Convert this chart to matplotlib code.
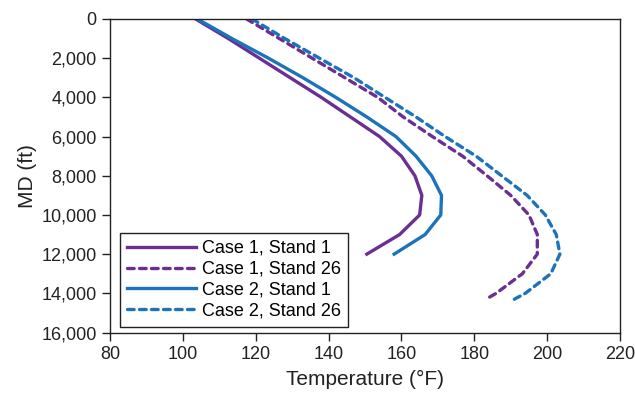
import numpy as np
import matplotlib
matplotlib.use("Agg")
import matplotlib.pyplot as plt
from matplotlib.ticker import FuncFormatter

plt.rcParams["font.family"] = ["Liberation Sans", "DejaVu Sans"]

md_short = [0, 1000, 2000, 3000, 4000, 5000, 6000, 7000, 8000, 9000, 10000, 11000, 12000]
t_case1_s1 = [103.5, 112.5, 121.0, 129.5, 138.0, 146.0, 154.0, 160.0, 163.7, 165.6, 165.0, 159.5, 150.5]
t_case2_s1 = [104.0, 113.5, 123.5, 133.0, 142.0, 150.5, 158.5, 164.0, 168.3, 171.0, 170.8, 166.5, 158.0]

md_long = [0, 1000, 2000, 3000, 4000, 5000, 6000, 7000, 8000, 9000, 10000,
           11000, 12000, 13000, 14000, 14300]
t_case1_s26 = [117.5, 126.5, 135.5, 144.5, 153.5, 160.5, 168.5, 176.8, 183.5, 190.0, 195.0,
               197.3, 197.3, 193.2, 186.0, 183.2]
t_case2_s26 = [119.0, 128.0, 137.5, 147.0, 155.5, 164.0, 172.0, 180.5, 187.5, 194.5, 199.5,
               202.5, 203.5, 201.0, 194.0, 191.0]

purple = "#6b2f94"
blue = "#1b74bb"
ink = "#222222"

fig = plt.figure(figsize=(6.35, 3.95), dpi=100)
ax = fig.add_axes([0.1732, 0.1582, 0.8032, 0.7937])

lw = 2.4
dash = (0, (2.0, 1.6))
ax.plot(t_case1_s1, md_short, color=purple, lw=lw, label="Case 1, Stand 1")
ax.plot(t_case1_s26, md_long, color=purple, lw=lw, ls=dash,
        dash_capstyle="round", label="Case 1, Stand 26")
ax.plot(t_case2_s1, md_short, color=blue, lw=lw, label="Case 2, Stand 1")
ax.plot(t_case2_s26, md_long, color=blue, lw=lw, ls=dash,
        dash_capstyle="round", label="Case 2, Stand 26")

ax.set_xlim(80, 220)
ax.set_ylim(16000, 0)
ax.set_xticks(np.arange(80, 221, 20))
ax.set_yticks(np.arange(0, 16001, 2000))
ax.yaxis.set_major_formatter(FuncFormatter(lambda v, p: f"{int(v):,}"))
ax.tick_params(direction="out", length=5.5, width=1, labelsize=13, colors=ink, pad=4)
for s in ax.spines.values():
    s.set_linewidth(1.0)
    s.set_color(ink)

ax.set_xlabel("Temperature (°F)", fontsize=15, color=ink, labelpad=5)
ax.set_ylabel("MD (ft)", fontsize=15, color=ink, labelpad=3)

leg = ax.legend(loc="lower left", bbox_to_anchor=(10 / 510, 5.5 / 313.5),
                borderaxespad=0, fontsize=13, handlelength=3.8, labelspacing=0.22,
                handletextpad=0.35, borderpad=0.4, fancybox=False,
                framealpha=1, edgecolor=ink)
leg.get_frame().set_linewidth(1.0)

fig.savefig("out.png", dpi=100)
